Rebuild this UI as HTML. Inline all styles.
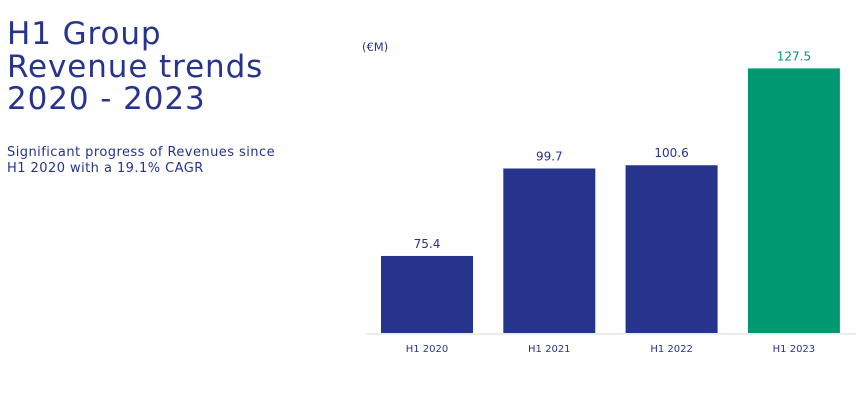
<!DOCTYPE html>
<html><head><meta charset="utf-8"><style>
body{margin:0;width:864px;height:406px;background:#fff;overflow:hidden;font-family:"DejaVu Sans","Liberation Sans",sans-serif;color:#27348b;position:relative}
#title{position:absolute;left:7px;top:18px;font-size:31px;line-height:32.5px;letter-spacing:0.9px;margin:0;font-weight:normal;color:#27348b}
#sub{position:absolute;left:7px;top:145px;font-size:13px;line-height:15.5px;letter-spacing:0.45px;color:#27348b}
svg{position:absolute;left:0;top:0}
</style></head><body>
<h1 id="title">H1 Group<br>Revenue trends<br>2020 - 2023</h1>
<div id="sub">Significant progress of Revenues since<br>H1 2020 with a 19.1% CAGR</div>
<svg id="chart" width="864" height="406">
<text x="362" y="51" font-size="11.5" fill="#27348b">(€M)</text>
<line x1="366" y1="334" x2="856" y2="334" stroke="#d8d8d8" stroke-width="1"/>
</svg>
<script>
const categories=["H1 2020","H1 2021","H1 2022","H1 2023"];
const revenues=[75.4,99.7,100.6,127.5];
const valueLabels=["75.4","99.7","100.6","127.5"];
const colors=["#27348b","#27348b","#27348b","#009870"];
const svg=document.getElementById('chart');
const NS="http://www.w3.org/2000/svg";
const base=333;
function y(v){return base-(v-54)*3.6;}
function x(i){return 381+i*122.3;}
const bw=92;
categories.forEach((c,i)=>{
  const r=document.createElementNS(NS,'rect');
  r.setAttribute('x',x(i));r.setAttribute('y',y(revenues[i]));
  r.setAttribute('width',bw);r.setAttribute('height',base-y(revenues[i]));
  r.setAttribute('fill',colors[i]);
  
  
  svg.appendChild(r);
  const t=document.createElementNS(NS,'text');
  t.setAttribute('x',x(i)+bw/2);t.setAttribute('y',y(revenues[i])-8);
  t.setAttribute('text-anchor','middle');t.setAttribute('font-size','12');
  t.setAttribute('fill',i===3?'#009870':'#27348b');
  t.textContent=valueLabels[i];
  
  
  svg.appendChild(t);
  const l=document.createElementNS(NS,'text');
  l.setAttribute('x',x(i)+bw/2);l.setAttribute('y',352);
  l.setAttribute('text-anchor','middle');l.setAttribute('font-size','10');
  l.setAttribute('fill','#27348b');
  l.textContent=c;
  
  
  svg.appendChild(l);
});
</script>
</body></html>
